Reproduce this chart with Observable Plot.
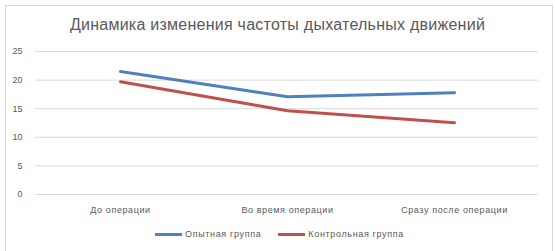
<!DOCTYPE html>
<html>
<head>
<meta charset="utf-8">
<script src="https://cdn.jsdelivr.net/npm/d3@7"></script>
<script src="https://cdn.jsdelivr.net/npm/@observablehq/plot@0.6"></script>
<style>
  html, body { margin: 0; padding: 0; background: #fff; }
  #wrap { position: relative; width: 555px; height: 251px; overflow: hidden; font-family: "Liberation Sans", Arial, sans-serif; }
  #frame { position: absolute; left: 5px; top: 5px; width: 548px; height: 260px; box-sizing: border-box; border: 1px solid #d9d9d9; }
  #title { position: absolute; left: 0; width: 555px; top: 16px; text-align: center; font-size: 16px; color: #595959; letter-spacing: 0.25px; }
  #legend { position: absolute; top: 229px; left: 155px; font-size: 9px; color: #595959; display: flex; align-items: center; letter-spacing: 0.65px; }
  .item { display: flex; align-items: center; }
  .sw { width: 27px; height: 3px; margin-right: 3px; }
  #chart { position: absolute; left: 0; top: 0; }
  #chart svg g[aria-label="x-axis tick label"] text { letter-spacing: 0.6px; }
</style>
</head>
<body>
<div id="wrap">
  <div id="frame"></div>
  <div id="chart"></div>
  <div id="title"></div>
  <div id="legend"></div>
</div>
<script>
const titleText = "Динамика изменения частоты дыхательных движений";
const categories = ["До операции", "Во время операции", "Сразу после операции"];
const seriesNames = ["Опытная группа", "Контрольная группа"];
const experimental = [21.5, 17.1, 17.8];
const control = [19.7, 14.65, 12.55];
const colors = ["#4f81bd", "#c0504d"];
const yTicks = [0, 5, 10, 15, 20, 25];

const data = [];
categories.forEach((c, i) => {
  data.push({cat: c, value: experimental[i], series: seriesNames[0]});
  data.push({cat: c, value: control[i], series: seriesNames[1]});
});

document.getElementById("title").textContent = titleText;

const plot = Plot.plot({
  width: 555,
  height: 251,
  marginLeft: 35,
  marginRight: 17,
  marginTop: 51,
  marginBottom: 57,
  style: {fontFamily: "'Liberation Sans', Arial, sans-serif", fontSize: "9px", color: "#595959", background: "transparent"},
  x: {type: "point", domain: categories, padding: 0.5, label: null},
  y: {domain: [0, 25], label: null},
  color: {domain: seriesNames, range: colors},
  marks: [
    Plot.ruleY(yTicks, {stroke: "#d9d9d9", strokeWidth: 1}),
    Plot.axisY(yTicks, {tickSize: 0, tickPadding: 13, fill: "#595959", label: null, fontSize: 9}),
    Plot.axisX({tickSize: 0, tickPadding: 12, fill: "#595959", label: null, fontSize: 9}),
    Plot.line(data, {x: "cat", y: "value", z: "series", stroke: "series", strokeWidth: 3, strokeLinecap: "round", strokeLinejoin: "round"})
  ]
});
document.getElementById("chart").appendChild(plot);

const legend = document.getElementById("legend");
seriesNames.forEach((s, i) => {
  const item = document.createElement("div");
  item.className = "item";
  if (i > 0) item.style.marginLeft = "17px";
  const sw = document.createElement("div");
  sw.className = "sw";
  sw.style.background = colors[i];
  const t = document.createElement("span");
  t.textContent = s;
  item.appendChild(sw);
  item.appendChild(t);
  legend.appendChild(item);
});
</script>
</body>
</html>
